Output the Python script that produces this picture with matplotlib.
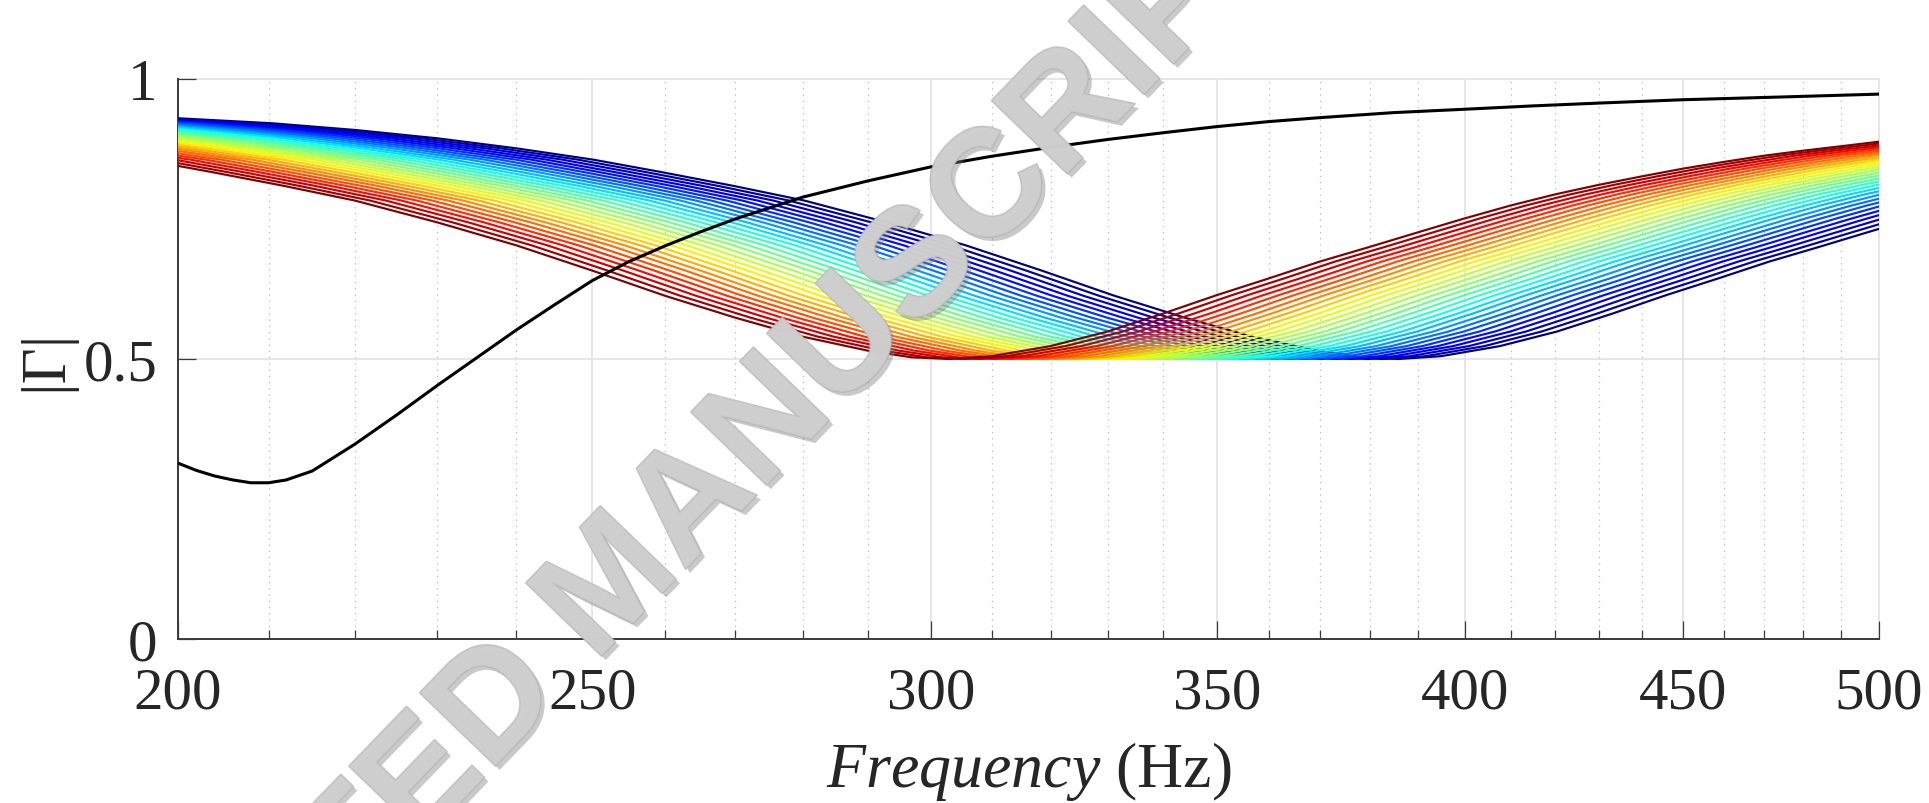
import numpy as np
import matplotlib
matplotlib.use("Agg")
import matplotlib.pyplot as plt
from matplotlib import patheffects as pe
from matplotlib.ticker import FixedLocator, FixedFormatter, NullFormatter

# ---------------- data ----------------
freq_ticks = [200, 250, 300, 350, 400, 450, 500]
freq_tick_labels = ["200", "250", "300", "350", "400", "450", "500"]
freq_minor = [210, 220, 230, 240, 260, 270, 280, 290, 310, 320, 330, 340,
              360, 370, 380, 390, 410, 420, 430, 440, 460, 470, 480, 490]
gamma_ticks = [0, 0.5, 1]
gamma_tick_labels = ["0", "0.5", "1"]

# black curve
black_freq = [200, 202, 204, 206, 208, 210, 212, 215, 220, 225, 230, 235, 240,
              245, 250, 255, 260, 265, 270, 280, 290, 300, 310, 320, 330, 340,
              350, 360, 370, 385, 400, 415, 430, 450, 475, 500]
black_gamma = [0.314, 0.301, 0.291, 0.284, 0.279, 0.279, 0.284, 0.300, 0.348,
               0.400, 0.453, 0.503, 0.552, 0.597, 0.640, 0.674, 0.702, 0.727,
               0.750, 0.789, 0.818, 0.843, 0.862, 0.878, 0.892, 0.904, 0.915,
               0.924, 0.931, 0.940, 0.946, 0.952, 0.957, 0.963, 0.968, 0.973]

# family of curves: common shape (frequency relative to the curve's minimum)
shape_ratio = [0.515, 0.545, 0.570, 0.596, 0.622, 0.648, 0.672, 0.699, 0.726,
               0.759, 0.792, 0.825, 0.858, 0.891, 0.924, 0.957, 0.980, 1.000,
               1.023, 1.056, 1.089, 1.122, 1.155, 1.188, 1.221, 1.254, 1.287,
               1.320, 1.353, 1.386, 1.419, 1.452, 1.485, 1.518, 1.551, 1.584,
               1.617, 1.650]
shape_gamma = [0.931, 0.921, 0.909, 0.894, 0.876, 0.856, 0.834, 0.809, 0.783,
               0.744, 0.703, 0.658, 0.613, 0.574, 0.540, 0.515, 0.503, 0.500,
               0.505, 0.523, 0.549, 0.581, 0.614, 0.644, 0.674, 0.700, 0.726,
               0.751, 0.774, 0.794, 0.811, 0.826, 0.840, 0.852, 0.863, 0.872,
               0.880, 0.888]
# frequency of the minimum of each curve (first = blue, last = dark red)
curve_min_freq = [386.0, 382.8, 379.6, 376.4, 373.3, 370.2, 367.1, 364.1,
                  361.1, 358.0, 355.1, 352.1, 349.2, 346.3, 343.4, 340.6,
                  337.7, 334.9, 332.1, 329.4, 326.6, 323.9, 321.2, 318.6,
                  315.9, 313.3, 310.7, 308.1, 305.5, 303.0]

# ---------------- figure ----------------
TXT = "#262626"
plt.rcParams["font.family"] = ["Liberation Serif", "DejaVu Serif"]
plt.rcParams["mathtext.fontset"] = "custom"
plt.rcParams["mathtext.rm"] = "Liberation Serif"
plt.rcParams["mathtext.it"] = "Liberation Serif:italic"

fig = plt.figure(figsize=(19.29, 8.04), dpi=100)
ax = fig.add_axes([178 / 1929, 1 - 640 / 804, 1701 / 1929, 560 / 804])

n = len(curve_min_freq)
cmap = plt.get_cmap("jet")
sr = np.array(shape_ratio)
for i, f0 in enumerate(curve_min_freq):
    ax.plot(sr * f0, shape_gamma, color=cmap(i / (n - 1)), lw=1.55,
            solid_joinstyle="round", zorder=3)

ax.plot(black_freq, black_gamma, color="black", lw=2.2, zorder=4,
        solid_joinstyle="round")

ax.set_xscale("log")
ax.set_xlim(200, 500)
ax.set_ylim(0, 1)
ax.xaxis.set_major_locator(FixedLocator(freq_ticks))
ax.xaxis.set_major_formatter(FixedFormatter(freq_tick_labels))
ax.xaxis.set_minor_locator(FixedLocator(freq_minor))
ax.xaxis.set_minor_formatter(NullFormatter())
ax.yaxis.set_major_locator(FixedLocator(gamma_ticks))
ax.yaxis.set_major_formatter(FixedFormatter(gamma_tick_labels))
ax.yaxis.set_minor_locator(FixedLocator([]))

ax.set_axisbelow(True)
ax.grid(True, which="major", color="#e2e2e2", lw=1.2, ls="-")
ax.grid(True, which="minor", axis="x", color="#b8b8b8", lw=0.9, ls=(0, (1, 4)))
for gl in ax.get_xgridlines() + ax.get_ygridlines():
    gl.set_clip_on(False)

for s in ["top", "right"]:
    ax.spines[s].set_visible(False)
for s in ["left", "bottom"]:
    ax.spines[s].set_color("#3a3a3a")
    ax.spines[s].set_linewidth(1.4)

ax.tick_params(which="major", direction="in", length=13, width=0.9,
               color="#3a3a3a", labelcolor=TXT, labelsize=42.5)
ax.tick_params(axis="x", which="major", pad=20)
ax.tick_params(axis="y", which="major", pad=15)
ax.tick_params(which="minor", direction="in", length=6.5, width=0.9,
               color="#3a3a3a")

ax.set_xlabel(r"$\mathit{Frequency}$ (Hz)", fontsize=46, color=TXT,
              va="baseline")
ax.xaxis.set_label_coords(0.5, (640 - 787) / 560)
ax.set_ylabel("|Γ|", fontsize=45, color=TXT, va="center")
ax.yaxis.set_label_coords((46 - 178) / 1701, 0.5)

# watermark (semi-transparent embossed grey text)
fig.text(0.318, 0.268, "ACCEPTED MANUSCRIPT", fontsize=110,
         family="Liberation Sans", fontweight="bold", color="#cfcfcf",
         alpha=0.72, rotation=46, rotation_mode="anchor", ha="center",
         va="center", zorder=10,
         path_effects=[pe.withSimplePatchShadow(offset=(3, -3),
                                                shadow_rgbFace="#7a7a7a",
                                                alpha=0.4),
                       pe.Stroke(linewidth=1.5, foreground="#b0b0b0"),
                       pe.Normal()])

fig.savefig("out.png", dpi=100)
